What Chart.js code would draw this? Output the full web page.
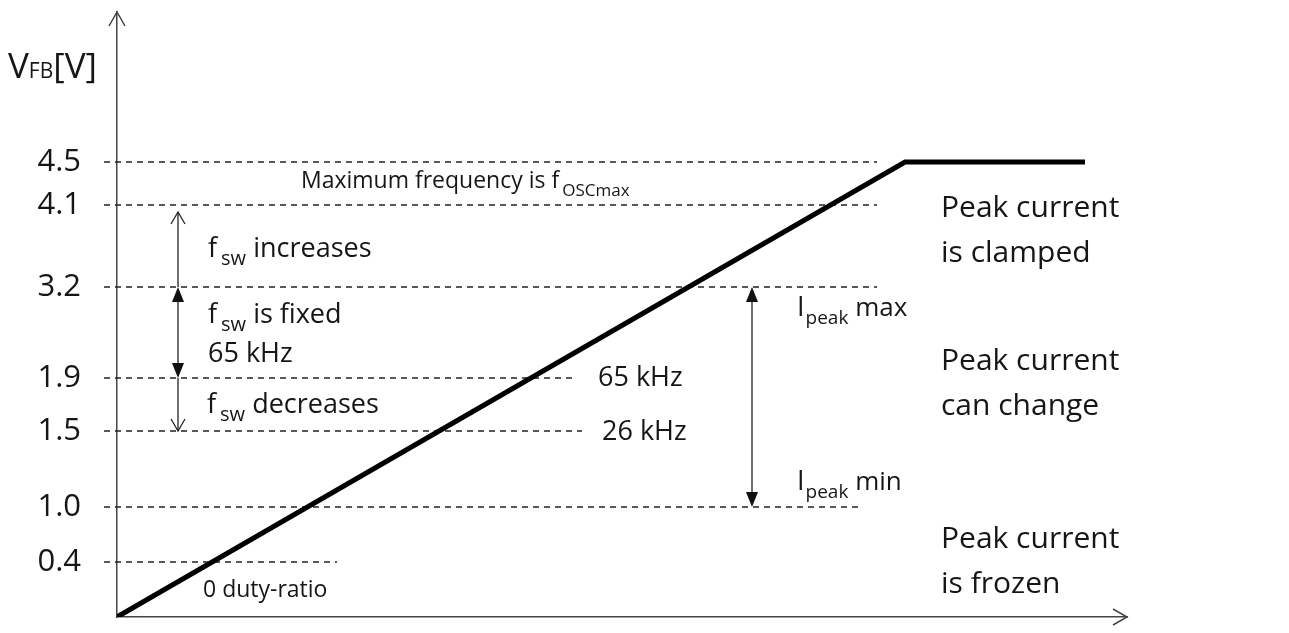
<!DOCTYPE html>
<html>
<head>
<meta charset="utf-8">
<script src="https://cdn.jsdelivr.net/npm/chart.js@4.4.1/dist/chart.umd.min.js"></script>
<style>
  html, body { margin: 0; padding: 0; background: #fff; }
</style>
</head>
<body>
<canvas id="vfbChart" width="1289" height="633"></canvas>
<script>
// VFB levels shown on the axis (schematic height, not to scale)
const levelLabels = ["0.4", "1.0", "1.5", "1.9", "3.2", "4.1", "4.5"];
const levelHeights = [55, 110, 186, 239, 330, 412, 455];
// where each dashed guide line stops
const levelEnds = [220, 745, 465, 460, 760, 760, 760];

// VFB curve (ramp then clamp)
const curveX = [0, 788, 968];
const curveY = [0, 455, 455];

const FONT = '"Open Sans", sans-serif';
const INK = "#161616";

const guideSets = levelHeights.map((h, i) => ({
    label: "VFB = " + levelLabels[i],
    data: [{ x: -13, y: h }, { x: levelEnds[i], y: h }],
    borderColor: "#222",
    borderWidth: 1.4,
    borderDash: [6, 5],
    pointRadius: 0,
    clip: false,
}));

function openHead(ctx, tx, ty, dx, dy, half, len) {
    ctx.beginPath();
    ctx.moveTo(tx - dx * len - dy * half, ty - dy * len - dx * half);
    ctx.lineTo(tx, ty);
    ctx.lineTo(tx - dx * len + dy * half, ty - dy * len + dx * half);
    ctx.stroke();
}

function filledHead(ctx, tx, ty, dx, dy, half, len) {
    ctx.beginPath();
    ctx.moveTo(tx, ty);
    ctx.lineTo(tx - dx * len - dy * half, ty - dy * len - dx * half);
    ctx.lineTo(tx - dx * len + dy * half, ty - dy * len + dx * half);
    ctx.closePath();
    ctx.fill();
}

function vline(ctx, x, y1, y2) {
    ctx.beginPath();
    ctx.moveTo(x, y1);
    ctx.lineTo(x, y2);
    ctx.stroke();
}

// text made of pieces: [text, size, drop, gapBefore]
function rich(ctx, x, y, parts) {
    ctx.textAlign = "left";
    ctx.textBaseline = "alphabetic";
    parts.forEach(([t, size, dy, gap]) => {
        x += gap || 0;
        ctx.font = size + "px " + FONT;
        ctx.fillText(t, x, y + (dy || 0));
        x += ctx.measureText(t).width;
    });
}

const annot = {
    id: "annot",
    afterDraw(chart) {
        const { ctx, chartArea: a } = chart;
        const sx = chart.scales.x, sy = chart.scales.y;
        const Y = (v) => sy.getPixelForValue(v);
        const X = (v) => sx.getPixelForValue(v);

        ctx.save();
        // axis arrow heads
        ctx.strokeStyle = "#444";
        ctx.lineWidth = 1.5;
        openHead(ctx, a.left, a.top, 0, -1, 8, 14);
        openHead(ctx, a.right, a.bottom, 1, 0, 8, 14);

        // left side arrows
        ctx.strokeStyle = "#222";
        ctx.fillStyle = "#111";
        ctx.lineWidth = 1.3;
        const ax = X(61);
        vline(ctx, ax, Y(levelHeights[4]), Y(405));
        openHead(ctx, ax, Y(405), 0, -1, 7, 12);

        vline(ctx, ax, Y(levelHeights[4]) + 8, Y(levelHeights[3]) - 8);
        filledHead(ctx, ax, Y(levelHeights[4]), 0, -1, 6, 15);
        filledHead(ctx, ax, Y(levelHeights[3]), 0, 1, 6, 15);

        vline(ctx, ax, Y(levelHeights[3]), Y(levelHeights[2]));
        openHead(ctx, ax, Y(levelHeights[2]), 0, 1, 7, 12);

        // Ipeak range
        const bx = X(635);
        vline(ctx, bx, Y(levelHeights[4]) + 8, Y(levelHeights[1]) - 8);
        filledHead(ctx, bx, Y(levelHeights[4]), 0, -1, 6, 15);
        filledHead(ctx, bx, Y(levelHeights[1]), 0, 1, 6, 15);

        // texts
        ctx.fillStyle = INK;
        rich(ctx, 8, 78, [["V", 35], ["FB", 21, 0], ["[V]", 35]]);

        rich(ctx, 301, 188, [["Maximum frequency is f", 23], ["OSCmax", 17, 8, 3]]);
        rich(ctx, 208, 257, [["f", 27], ["sw", 20, 8, 4], [" increases", 27]]);
        rich(ctx, 208, 323, [["f", 27], ["sw", 20, 8, 4], [" is fixed", 27]]);
        rich(ctx, 208, 362, [["65 kHz", 27]]);
        rich(ctx, 207, 413, [["f", 27], ["sw", 20, 8, 4], [" decreases", 27]]);
        rich(ctx, 598, 386, [["65 kHz", 27]]);
        rich(ctx, 602, 440, [["26 kHz", 27]]);
        rich(ctx, 797, 316, [["I", 27], ["peak", 19, 8, 1], [" max", 26]]);
        rich(ctx, 797, 490, [["I", 27], ["peak", 19, 8, 1], [" min", 26]]);
        rich(ctx, 203, 597, [["0 duty-ratio", 23]]);

        [[217, "Peak current", "is clamped"],
         [370, "Peak current", "can change"],
         [548, "Peak current", "is frozen"]].forEach(([b, l1, l2]) => {
            rich(ctx, 941, b, [[l1, 30]]);
            rich(ctx, 941, b + 45, [[l2, 30]]);
        });
        ctx.restore();
    },
};

new Chart(document.getElementById("vfbChart"), {
    type: "line",
    data: {
        datasets: [
            {
                label: "VFB",
                data: curveX.map((x, i) => ({ x, y: curveY[i] })),
                borderColor: "#000",
                borderWidth: 5,
                borderJoinStyle: "miter",
                pointRadius: 0,
                tension: 0,
            },
            ...guideSets,
        ],
    },
    options: {
        responsive: false,
        animation: false,
        devicePixelRatio: 1,
        layout: { padding: { top: 12, right: 162, left: 0, bottom: 0 } },
        plugins: {
            legend: { display: false },
            tooltip: { enabled: false },
        },
        scales: {
            x: {
                type: "linear",
                min: 0,
                max: 1010,
                grid: { display: false },
                ticks: { display: false },
                border: { display: true, color: "#444", width: 1.5 },
                afterFit: (s) => {
                    s.height = 16;
                    s.paddingLeft = 0;
                    s.paddingRight = 0;
                },
            },
            y: {
                type: "linear",
                min: 0,
                max: 605,
                grid: { display: false },
                border: { display: true, color: "#444", width: 1.5 },
                afterBuildTicks: (s) => {
                    s.ticks = levelHeights.map((v) => ({ value: v }));
                },
                afterFit: (s) => {
                    s.width = 117;
                    s.paddingTop = 0;
                    s.paddingBottom = 0;
                },
                ticks: {
                    autoSkip: false,
                    padding: 28,
                    color: INK,
                    font: { family: FONT, size: 31 },
                    callback: (v) => levelLabels[levelHeights.indexOf(v)],
                },
            },
        },
    },
    plugins: [annot],
});
</script>
</body>
</html>
